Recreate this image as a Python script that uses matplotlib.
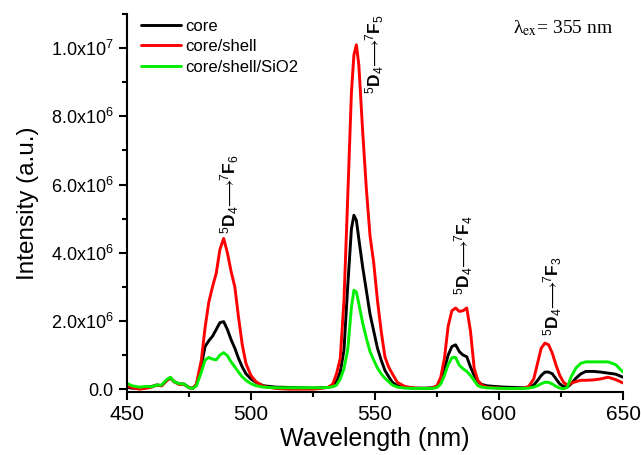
import numpy as np
import matplotlib
matplotlib.use('Agg')
import matplotlib.pyplot as plt
from matplotlib.ticker import MultipleLocator, FuncFormatter

plt.rcParams['font.family'] = ['Liberation Sans', 'DejaVu Sans']
plt.rcParams['mathtext.fontset'] = 'custom'
plt.rcParams['mathtext.rm'] = 'Liberation Sans'
plt.rcParams['mathtext.it'] = 'Liberation Sans:italic'
plt.rcParams['mathtext.bf'] = 'Liberation Sans:bold'

# wavelength grid (nm)
wavelength = [450, 452, 455, 458, 460, 462, 464, 466, 467.5, 469, 471, 473, 475, 476.5, 478,
              480, 481.5, 483, 484.5, 486, 487.5, 489, 490.5, 492, 493.5, 495, 496.5, 498, 500,
              502, 505, 510, 515, 520, 525, 528, 531, 533, 534.5, 536, 537.5, 539, 540.5, 541.5,
              542.5, 543.5, 545, 546.5, 548, 549.5, 551, 552.5, 554, 555.5, 557, 559, 562, 566,
              570, 573, 575, 576.5, 578, 579.5, 581, 582.5, 584, 585.5, 587, 588.5, 590, 591.5,
              593, 595, 598, 602, 606, 610, 612, 614, 615.5, 617, 618.5, 620, 621.5, 623, 624.5,
              626, 627.5, 629, 631, 633, 635, 638, 641, 644, 647, 650]

# intensities in units of 1e6
core = [0.06, 0.03, 0.02, 0.05, 0.08, 0.12, 0.10, 0.25, 0.33, 0.22, 0.15, 0.15, 0.05, 0.02, 0.12,
        0.70, 1.25, 1.42, 1.55, 1.75, 1.95, 1.98, 1.75, 1.45, 1.20, 0.90, 0.65, 0.45, 0.30,
        0.20, 0.10, 0.06, 0.05, 0.04, 0.03, 0.04, 0.05, 0.10, 0.22, 0.50, 1.15, 3.00, 4.70, 5.10,
        4.95, 4.40, 3.60, 2.90, 2.20, 1.70, 1.20, 0.85, 0.55, 0.37, 0.20, 0.10, 0.05, 0.03,
        0.03, 0.04, 0.08, 0.25, 0.60, 1.00, 1.25, 1.30, 1.10, 1.00, 0.95, 0.65, 0.40, 0.22,
        0.14, 0.10, 0.08, 0.06, 0.05, 0.04, 0.06, 0.12, 0.25, 0.40, 0.50, 0.50, 0.45, 0.30, 0.15,
        0.08, 0.06, 0.15, 0.32, 0.45, 0.52, 0.52, 0.50, 0.47, 0.44, 0.35]

core_shell = [0.10, 0.05, 0.00, 0.03, 0.06, 0.12, 0.10, 0.25, 0.33, 0.22, 0.14, 0.14, 0.04, 0.02, 0.15,
              0.85, 1.80, 2.55, 3.00, 3.40, 4.10, 4.42, 4.00, 3.45, 3.00, 2.10, 1.30, 0.75, 0.40,
              0.22, 0.08, 0.02, 0.00, 0.00, 0.00, 0.02, 0.05, 0.15, 0.45, 0.90, 2.60, 5.60, 8.70, 9.80,
              10.1, 9.50, 7.60, 5.90, 4.50, 3.70, 2.60, 1.70, 0.95, 0.65, 0.45, 0.20, 0.08, 0.03,
              0.02, 0.03, 0.10, 0.35, 0.90, 1.85, 2.30, 2.38, 2.28, 2.30, 2.38, 1.70, 0.60, 0.25,
              0.12, 0.06, 0.04, 0.02, 0.02, 0.03, 0.08, 0.30, 0.75, 1.20, 1.35, 1.30, 1.05, 0.70, 0.40,
              0.20, 0.12, 0.17, 0.22, 0.26, 0.26, 0.27, 0.30, 0.35, 0.28, 0.18]

core_shell_sio2 = [0.17, 0.10, 0.06, 0.08, 0.07, 0.12, 0.12, 0.28, 0.35, 0.22, 0.16, 0.15, 0.04, 0.02, 0.10,
                   0.50, 0.85, 0.93, 0.88, 0.86, 1.00, 1.07, 0.98, 0.80, 0.65, 0.50, 0.36, 0.26, 0.16,
                   0.10, 0.06, 0.04, 0.04, 0.04, 0.04, 0.04, 0.05, 0.07, 0.12, 0.30, 0.60, 1.15, 2.40, 2.90,
                   2.85, 2.50, 1.95, 1.50, 1.10, 0.85, 0.62, 0.45, 0.32, 0.22, 0.12, 0.06, 0.03, 0.02,
                   0.02, 0.02, 0.05, 0.15, 0.40, 0.72, 0.92, 0.93, 0.70, 0.60, 0.52, 0.40, 0.25, 0.10,
                   0.06, 0.04, 0.03, 0.02, 0.02, 0.02, 0.03, 0.06, 0.10, 0.16, 0.20, 0.20, 0.15, 0.08, 0.03,
                   0.01, 0.05, 0.35, 0.62, 0.76, 0.80, 0.80, 0.80, 0.80, 0.72, 0.50]

labels = ['core', 'core/shell', 'core/shell/SiO2']
colors = ['black', '#ff0000', '#00ee00']

# transition labels: (wavelength, intensity 1e6, final J)
trans_x = [491.6, 550.0, 585.8, 621.6]
trans_y = [4.55, 8.65, 2.75, 1.55]
trans_j = [6, 5, 4, 3]


def sci_fmt(v, pos):
    if v == 0:
        return '0.0'
    e = int(np.floor(np.log10(abs(v))))
    m = v / 10 ** e
    return r'%.1fx10$^{%d}$' % (m, e)


def main():
    fig = plt.figure(figsize=(6.41, 4.55), dpi=100)
    ax = fig.add_axes([0.198, 0.138, 0.774, 0.831])

    wl = np.array(wavelength)
    for ys, lab, c in zip([core, core_shell, core_shell_sio2], labels, colors):
        ax.plot(wl, np.array(ys) * 1e6, color=c, lw=2.1, label=lab,
                solid_joinstyle='round', solid_capstyle='round')

    ax.set_xlim(450, 650)
    ax.set_ylim(-0.09e6, 11.0e6)
    ax.xaxis.set_major_locator(MultipleLocator(50))
    ax.xaxis.set_minor_locator(MultipleLocator(25))
    ax.yaxis.set_major_locator(MultipleLocator(2e6))
    ax.yaxis.set_minor_locator(MultipleLocator(1e6))
    ax.yaxis.set_major_formatter(FuncFormatter(sci_fmt))

    for s in ['top', 'right']:
        ax.spines[s].set_visible(False)
    for s in ['left', 'bottom']:
        ax.spines[s].set_linewidth(1.5)
    ax.tick_params(which='major', direction='out', length=6, width=1.5)
    ax.tick_params(which='minor', direction='out', length=3.5, width=1.5)
    ax.tick_params(axis='x', labelsize=15)
    ax.tick_params(axis='y', labelsize=13)

    ax.set_xlabel('Wavelength (nm)', fontsize=18, labelpad=2)
    ax.set_ylabel('Intensity (a.u.)', fontsize=17.5, labelpad=9)

    for x, y, j in zip(trans_x, trans_y, trans_j):
        ax.text(x, y * 1e6,
                r'$^{5}\mathbf{D}_{4}\!\longrightarrow\!\!^{7}\mathbf{F}_{%d}$' % j,
                rotation=90, ha='center', va='bottom', fontsize=12.5)

    ax.text(0.98, 0.99, u'\u03bb$_{\\mathrm{ex}}$= 355 nm', transform=ax.transAxes,
            ha='right', va='top', fontsize=14, family='Liberation Serif',
            math_fontfamily='stix')

    ax.legend(loc='upper left', bbox_to_anchor=(0.015, 1.005), frameon=False,
              fontsize=12, handlelength=2.4, handletextpad=0.25, labelspacing=0.32,
              borderaxespad=0.0)

    fig.savefig('out.png', dpi=100)


if __name__ == "__main__":
    main()
